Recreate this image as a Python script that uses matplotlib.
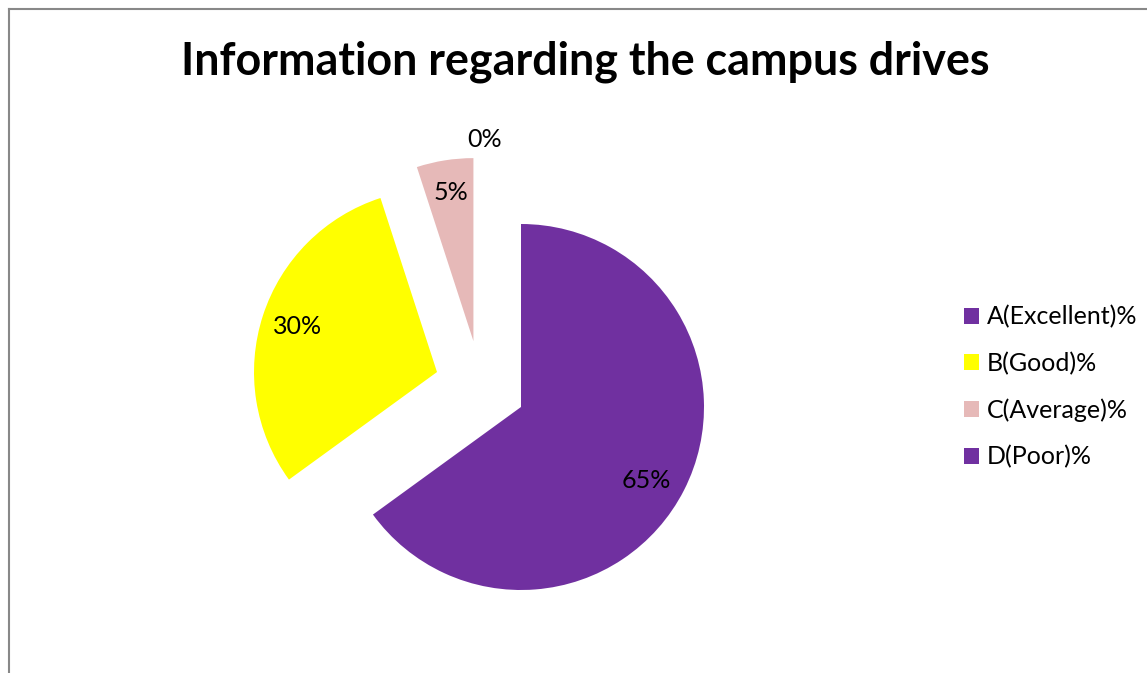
import matplotlib
matplotlib.use("Agg")
import matplotlib.pyplot as plt
from matplotlib.patches import Rectangle
from matplotlib.lines import Line2D

categories = ['A(Excellent)%', 'B(Good)%', 'C(Average)%', 'D(Poor)%']
values = [65, 30, 5, 0]
colors = ['#7030A0', '#FFFF00', '#E6B9B8', '#7030A0']
title = 'Information regarding the campus drives'

# wedge offsets (in pie radius units) mimicking the exploded slices
offsets = [(0.0, 0.0), (-0.459, 0.191), (-0.26, 0.36), (0.0, 0.0)]
label_shift = [(-0.03, -0.04), (0.0, 0.0), (0.0, 0.02), (-0.2, 0.66)]

W, H = 1147, 673
fig = plt.figure(figsize=(W / 100, H / 100), dpi=100)
plt.rcParams['font.family'] = ['Lato', 'DejaVu Sans']

R = 183.0
cx, cy = 521.0, 407.0
ax = fig.add_axes([0, 0, 1, 1])

wedges, texts, autotexts = ax.pie(
    values, colors=colors, startangle=90, counterclock=False,
    autopct='%1.0f%%', pctdistance=0.8, radius=1,
    wedgeprops=dict(linewidth=0), textprops=dict(fontsize=18, color='black'))

ax.set_xlim(-cx / R, (W - cx) / R)
ax.set_ylim(-(H - cy) / R, cy / R)
ax.set_aspect('equal')
ax.axis('off')

for w, t, (dx, dy), (lx, ly) in zip(wedges, autotexts, offsets, label_shift):
    w.set_center((dx, dy))
    x, y = t.get_position()
    t.set_position((x + dx + lx, y + dy + ly))

fig.text(585 / W, 1 - 62 / H, title, ha='center', va='center',
         fontsize=32.3, fontweight='bold')

handles = [Rectangle((0, 0), 1, 1, facecolor=c, edgecolor='none') for c in colors]
fig.legend(handles, categories, loc='center left',
           bbox_to_anchor=(964 / W, 1 - 387 / H), frameon=False,
           fontsize=18, handlelength=0.6, handleheight=0.6,
           handletextpad=0.3, labelspacing=0.93, borderpad=0, borderaxespad=0)

fig.add_artist(Line2D([9 / W, 1], [1 - 9 / H, 1 - 9 / H], transform=fig.transFigure,
                      color='#888888', linewidth=1.5))
fig.add_artist(Line2D([9 / W, 9 / W], [0, 1 - 9 / H], transform=fig.transFigure,
                      color='#888888', linewidth=1.5))

fig.savefig('out.png', dpi=100, facecolor='white')
